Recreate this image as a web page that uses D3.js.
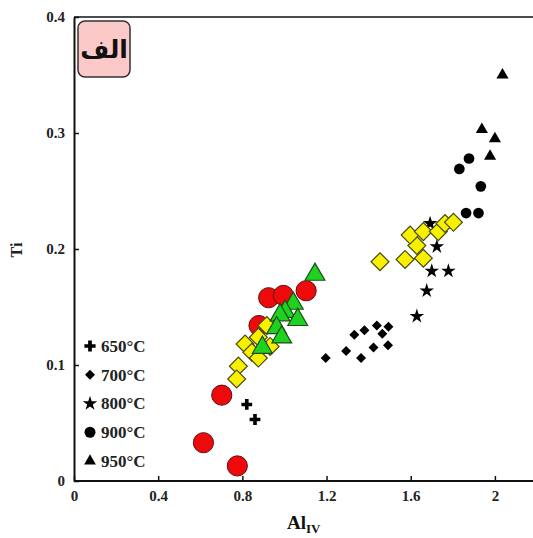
<!DOCTYPE html>
<html>
<head>
<meta charset="utf-8">
<script src="https://cdn.jsdelivr.net/npm/d3@7"></script>
<style>
  body { margin: 0; background: #fff; }
  svg text { font-family: "Liberation Serif", "Times New Roman", serif; font-weight: bold; }
</style>
</head>
<body>
<div id="chart"></div>
<script>
// AlIV vs Ti data
const xTicks = [0, 0.4, 0.8, 1.2, 1.6, 2];
const yTicks = [0, 0.1, 0.2, 0.3, 0.4];

const t650 = [[0.821, 0.066], [0.860, 0.053]];
const t700 = [[1.196, 0.106], [1.293, 0.112], [1.364, 0.106], [1.332, 0.126], [1.380, 0.130],
              [1.439, 0.134], [1.465, 0.127], [1.494, 0.133], [1.423, 0.115], [1.492, 0.117]];
const t800 = [[1.692, 0.222], [1.724, 0.202], [1.700, 0.181], [1.779, 0.181], [1.676, 0.164], [1.629, 0.142]];
const t900 = [[1.877, 0.278], [1.831, 0.269], [1.933, 0.254], [1.863, 0.231], [1.922, 0.231]];
const t950 = [[2.036, 0.350], [1.938, 0.303], [2.000, 0.295], [1.977, 0.280]];

const redCircles = [[0.615, 0.033], [0.776, 0.013], [0.702, 0.074], [0.879, 0.134],
                    [0.925, 0.158], [0.995, 0.160], [1.103, 0.164]];
const yellowDiamonds = [[0.916, 0.134], [0.876, 0.124], [0.813, 0.118], [0.845, 0.111], [0.876, 0.106],
                        [0.932, 0.116], [0.781, 0.099], [0.773, 0.088],
                        [1.454, 0.189], [1.573, 0.191], [1.660, 0.192], [1.629, 0.203], [1.597, 0.212],
                        [1.660, 0.215], [1.731, 0.215], [1.763, 0.222], [1.803, 0.223]];
const greenTriangles = [[1.145, 0.178], [1.042, 0.153], [1.003, 0.146], [0.979, 0.143],
                        [1.063, 0.139], [0.963, 0.132], [0.987, 0.124], [0.895, 0.115]];

const legendLabels = ["650°C", "700°C", "800°C", "900°C", "950°C"];

const W = 533, H = 538;
const svg = d3.select("#chart").append("svg").attr("width", W).attr("height", H);

const x = d3.scaleLinear().domain([0, 2.2]).range([74, 537]);
const y = d3.scaleLinear().domain([0, 0.4]).range([481, 17]);

// frame top
svg.append("line").attr("x1", 74).attr("x2", W).attr("y1", 17).attr("y2", 17)
  .attr("stroke", "#111").attr("stroke-width", 1.5);

const xAxis = svg.append("g").attr("transform", "translate(0,481)")
  .call(d3.axisBottom(x).tickValues(xTicks).tickFormat(d => String(d)).tickSizeInner(-5).tickSizeOuter(0).tickPadding(9));
const yAxis = svg.append("g").attr("transform", "translate(74,0)")
  .call(d3.axisLeft(y).tickValues(yTicks).tickFormat(d => String(d)).tickSizeInner(-5).tickSizeOuter(0).tickPadding(9));

[xAxis, yAxis].forEach(g => {
  g.select(".domain").attr("stroke", "#111").attr("stroke-width", 2);
  g.selectAll(".tick line").attr("stroke", "#111").attr("stroke-width", 1.5);
  g.selectAll(".tick text").attr("fill", "#222").style("font-size", "15px")
    .style("font-family", "'Liberation Serif', serif").style("font-weight", "bold");
});
xAxis.select(".domain").attr("d", `M74,0H${W}`);

// axis titles
svg.append("text").attr("transform", "translate(22,250) rotate(-90)")
  .attr("text-anchor", "middle").style("font-size", "16px").attr("fill", "#222").text("Ti");
const xl = svg.append("text").attr("x", 287).attr("y", 529).style("font-size", "19px").attr("fill", "#111");
xl.append("tspan").text("Al");
xl.append("tspan").attr("dy", 4).style("font-size", "13px").text("IV");

const sym = (type, size) => d3.symbol().type(type).size(size)();

function plot(data, type, size, fill, stroke, sw, rot) {
  svg.append("g").selectAll("path").data(data).join("path")
    .attr("d", sym(type, size))
    .attr("transform", d => `translate(${x(d[0])},${y(d[1])})` + (rot ? ` rotate(${rot})` : ""))
    .attr("fill", fill)
    .attr("stroke", stroke)
    .attr("stroke-width", sw);
}

// black series
plot(t650, d3.symbolCross, 65, "#000", "none", 0);
plot(t700, d3.symbolSquare, 50, "#000", "none", 0, 45);
plot(t800, d3.symbolStar, 66, "#000", "none", 0);
plot(t900, d3.symbolCircle, 90, "#000", "none", 0);
plot(t950, d3.symbolTriangle, 64, "#000", "none", 0);

// coloured series
plot(redCircles, d3.symbolCircle, 320, "#ee0a0a", "#5a1010", 1);
plot(yellowDiamonds, d3.symbolSquare, 160, "#f7f000", "#4a4a10", 1.2, 45);
plot(greenTriangles, d3.symbolTriangle, 170, "#1fd21f", "#1d4d1d", 1.2);

// legend
const legTypes = [d3.symbolCross, d3.symbolSquare, d3.symbolStar, d3.symbolCircle, d3.symbolTriangle];
const legSizes = [70, 50, 66, 95, 60];
const legY = d3.scalePoint().domain(legendLabels).range([346, 461]);
legendLabels.forEach((lab, i) => {
  svg.append("path").attr("d", sym(legTypes[i], legSizes[i]))
    .attr("transform", `translate(90,${legY(lab)})` + (i === 1 ? " rotate(45)" : ""))
    .attr("fill", "#000");
  svg.append("text").attr("x", 101).attr("y", legY(lab)).attr("dy", "0.35em")
    .style("font-size", "17px").attr("fill", "#222").text(lab);
});

// panel label
svg.append("rect").attr("x", 78).attr("y", 21).attr("width", 52).attr("height", 56).attr("rx", 7)
  .attr("fill", "#fcc9c9").attr("stroke", "#333").attr("stroke-width", 1.5);
svg.append("text").attr("x", 104).attr("y", 49).attr("dy", "0.35em").attr("text-anchor", "middle")
  .style("font-family", "'DejaVu Sans', sans-serif").style("font-size", "25px").attr("fill", "#111").text("الف");
</script>
</body>
</html>
